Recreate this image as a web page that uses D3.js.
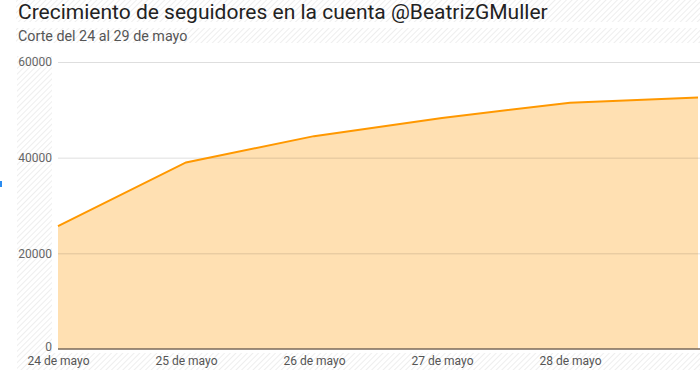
<!DOCTYPE html>
<html>
<head>
<meta charset="utf-8">
<script src="https://cdn.jsdelivr.net/npm/d3@7"></script>
<style>
  body { margin: 0; background: #fff; }
  svg { display: block; font-family: Roboto, "Noto Sans", sans-serif; }
</style>
</head>
<body>
<div id="chart-container"></div>
<script>
const days = ["24 de mayo", "25 de mayo", "26 de mayo", "27 de mayo", "28 de mayo", "29 de mayo"];
const followers = [25700, 39000, 44500, 48300, 51500, 52600];
const yTicks = [0, 20000, 40000, 60000];
const xLabels = ["24 de mayo", "25 de mayo", "26 de mayo", "27 de mayo", "28 de mayo"];

const W = 700, H = 370;
const margin = { top: 62, right: 2, bottom: 21, left: 58 };
const width = W - margin.left - margin.right;
const height = H - margin.top - margin.bottom;

const data = days.map((d, i) => ({ day: d, value: followers[i] }));

const svg = d3.select("#chart-container").append("svg")
  .attr("width", W).attr("height", H);

// hatched backgrounds behind the text blocks
const pat = svg.append("defs").append("pattern")
  .attr("id", "hatch").attr("patternUnits", "userSpaceOnUse")
  .attr("width", 4).attr("height", 4)
  .attr("patternTransform", "rotate(45)");
pat.append("rect").attr("width", 4).attr("height", 4).attr("fill", "#fff");
pat.append("line").attr("x1", 0).attr("y1", 0).attr("x2", 0).attr("y2", 4)
  .attr("stroke", "#e6e6e6").attr("stroke-width", 1.3);

svg.append("rect").attr("x", 16).attr("y", 0).attr("width", 684).attr("height", 22).attr("fill", "url(#hatch)");
svg.append("rect").attr("x", 16).attr("y", 28).attr("width", 684).attr("height", 15).attr("fill", "url(#hatch)");
svg.append("rect").attr("x", 17).attr("y", 56).attr("width", 35).attr("height", 299).attr("fill", "url(#hatch)");
svg.append("rect").attr("x", 17).attr("y", 353).attr("width", 683).attr("height", 17).attr("fill", "url(#hatch)");

// small blue mark at left edge
svg.append("rect").attr("x", 0).attr("y", 181).attr("width", 2).attr("height", 6).attr("fill", "#2b8cf0");

svg.append("text").attr("x", 18).attr("y", 19)
  .attr("font-size", 21).attr("fill", "#222")
  .text("Crecimiento de seguidores en la cuenta @BeatrizGMuller");
svg.append("text").attr("x", 18).attr("y", 41)
  .attr("font-size", 14.3).attr("fill", "#555")
  .text("Corte del 24 al 29 de mayo");

const g = svg.append("g").attr("transform", `translate(${margin.left},${margin.top})`);

const x = d3.scalePoint().domain(days).range([0, width]);
const y = d3.scaleLinear().domain([0, 60000]).range([height, 0]);

const area = d3.area().x(d => x(d.day)).y0(height).y1(d => y(d.value));
const line = d3.line().x(d => x(d.day)).y(d => y(d.value));

g.append("path").datum(data).attr("d", area).attr("fill", "#ffe0b2");

// gridlines
g.append("g").attr("class", "grid")
  .call(d3.axisLeft(y).tickValues(yTicks.filter(t => t > 0)).tickSize(-width - margin.right).tickFormat(""))
  .call(s => s.select(".domain").remove())
  .call(s => s.selectAll("line").attr("stroke", "rgba(0,0,0,0.13)").attr("stroke-width", 1));

// y labels
g.append("g")
  .call(d3.axisLeft(y).tickValues(yTicks).tickSize(0).tickPadding(6).tickFormat(d3.format("d")))
  .call(s => s.select(".domain").remove())
  .call(s => s.selectAll("text").attr("font-size", 12).attr("fill", "#666").attr("font-family", "Roboto, sans-serif"))
  .call(s => s.selectAll(".tick").filter(d => d === 0).select("text").attr("dy", "0.1em"));

g.append("path").datum(data).attr("d", line)
  .attr("fill", "none").attr("stroke", "#ff9800").attr("stroke-width", 2);

// baseline
g.append("line").attr("x1", 0).attr("x2", width + margin.right)
  .attr("y1", y(0)).attr("y2", y(0))
  .attr("stroke", "#7a6a5a").attr("stroke-width", 1.5);

// x labels
g.append("g").attr("transform", `translate(0,${height})`)
  .call(d3.axisBottom(x).tickValues(xLabels).tickSize(0).tickPadding(7))
  .call(s => s.select(".domain").remove())
  .call(s => s.selectAll("text").attr("font-size", 12).attr("fill", "#555").attr("font-family", "Roboto, sans-serif"));
</script>
</body>
</html>
